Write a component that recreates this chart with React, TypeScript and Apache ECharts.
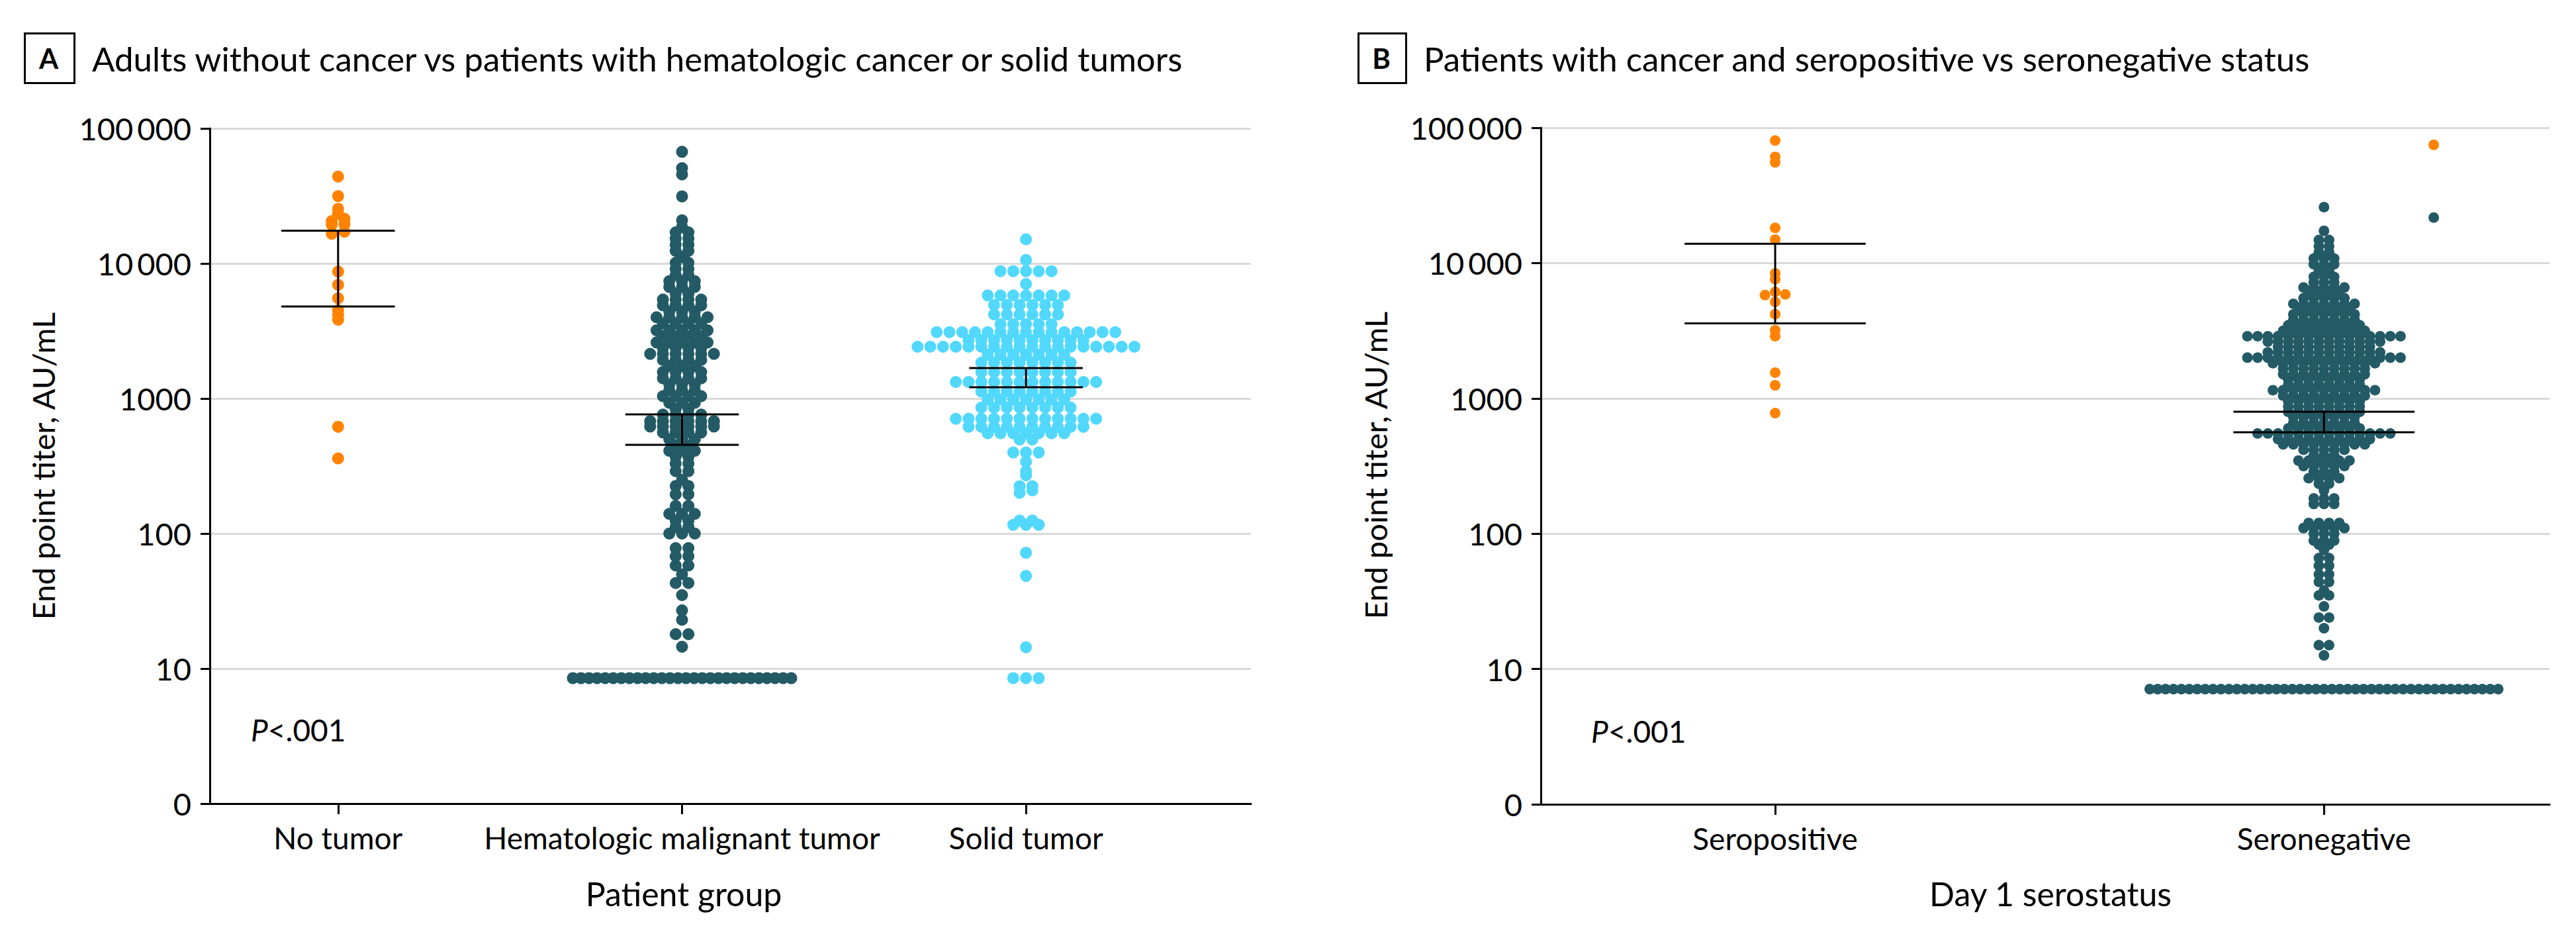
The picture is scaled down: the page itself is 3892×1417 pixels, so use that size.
import React, { useEffect, useRef } from "react";
import * as echarts from "echarts";

const FONT = "Lato, 'Noto Sans', 'DejaVu Sans', sans-serif";

// ---------- texts ----------
const panelATitle = "Adults without cancer vs patients with hematologic cancer or solid tumors";
const panelBTitle = "Patients with cancer and seropositive vs seronegative status";
const panelACategories = ["No tumor", "Hematologic malignant tumor", "Solid tumor"];
const panelBCategories = ["Seropositive", "Seronegative"];
const panelAXTitle = "Patient group";
const panelBXTitle = "Day 1 serostatus";
const yAxisTitle = "End point titer, AU/mL";
const yTickLabels = ["0", "10", "100", "1000", "10\u2009000", "100\u2009000"];
const pValueText = "<.001";

// ---------- data (AU/mL) ----------
const noTumorTiters = [44000, 31500, 25400, 23300, 21400, 19600, 19400, 20600, 17200, 16600, 8700, 6950, 5530, 4510, 3830, 4140, 618, 360];

const hemaLevels = [67100, 50800, 45700, 31400, 20900, 18600, 17000, 15300, 13800, 12400, 11200, 10100, 9100, 8200, 7400, 6700, 6000, 5400, 4900, 4400, 4000, 3600, 3200, 2900, 2600, 2370, 2140, 1930, 1740, 1570, 1410, 1270, 1150, 1040, 930, 840, 760, 680, 620, 560, 500, 450, 410, 370, 330, 290, 250, 225, 195, 160, 140, 125, 112, 100, 78, 68, 58, 50, 43, 35, 27, 23, 18, 14.5, 8.5];
const hemaCounts = [1, 1, 1, 1, 1, 1, 2, 2, 2, 2, 1, 2, 2, 2, 3, 3, 2, 4, 4, 3, 5, 4, 5, 4, 5, 4, 6, 4, 3, 4, 4, 3, 3, 4, 3, 2, 4, 6, 6, 4, 3, 2, 3, 2, 2, 2, 1, 2, 2, 2, 3, 2, 2, 3, 2, 2, 2, 1, 2, 1, 1, 1, 2, 1, 28];

const solidLevels = [15100, 10600, 8770, 7050, 5800, 4930, 4190, 3550, 3100, 2700, 2420, 2110, 1845, 1565, 1325, 1125, 982, 857, 708, 617, 553, 497, 398, 340, 290, 270, 224, 209, 200, 125, 116, 72, 48.5, 14.4, 8.5];
const solidCounts = [1, 1, 5, 1, 7, 6, 6, 5, 15, 10, 18, 7, 8, 8, 12, 8, 7, 8, 12, 10, 7, 2, 3, 1, 1, 1, 2, 1, 1, 2, 3, 1, 1, 1, 3];

const seroposTiters = [80400, 61000, 55500, 18200, 14900, 8400, 7590, 5870, 6120, 5800, 5160, 4190, 3190, 2880, 1550, 1250, 778];

const seronegLevels = [25900, 17300, 14800, 13300, 12000, 10800, 9800, 8800, 7900, 7200, 6600, 6000, 5500, 5000, 4570, 4170, 3800, 3470, 3160, 2880, 2630, 2400, 2190, 2000, 1820, 1660, 1510, 1380, 1260, 1150, 1050, 955, 870, 795, 725, 660, 600, 550, 500, 457, 417, 380, 347, 316, 288, 257, 234, 209, 182, 166, 120, 110, 100, 89, 83, 76, 66, 58, 50, 44, 38, 35, 29, 24, 20, 15, 12.6, 7.1];
const seronegCounts = [1, 1, 2, 2, 2, 3, 3, 2, 3, 3, 5, 4, 5, 7, 6, 7, 7, 8, 9, 16, 12, 10, 12, 16, 11, 9, 9, 8, 8, 11, 9, 8, 8, 8, 7, 7, 8, 14, 10, 9, 5, 3, 6, 5, 3, 4, 2, 1, 3, 3, 4, 5, 3, 3, 2, 1, 2, 2, 2, 2, 1, 2, 1, 2, 1, 2, 1, 45];

// two seronegative-group outliers drawn beside the swarm
const seronegOutlierTiters = [74800, 21700];
const seronegOutlierIsOrange = [true, false];

// error bars (low / high), AU/mL
const panelAErrLow = [4800, 454, 1210];
const panelAErrHigh = [17500, 763, 1680];
const panelBErrLow = [3580, 562];
const panelBErrHigh = [13900, 796];

// ---------- styling ----------
const ORANGE = "#ff8300";
const TEAL = "#235a65";
const CYAN = "#52d8fc";
const GRID_GRAY = "#d9d9d9";

const expand = (levels: number[], counts: number[]) => {
  const out: number[] = [];
  levels.forEach((v, i) => {
    for (let k = 0; k < counts[i]; k++) out.push(v);
  });
  return out;
};

// Prism-like row layout: values grouped in rows, rows spread symmetrically
function swarm(values: number[], center: number, step: number, maxSpan: number, rowGap: number): number[][] {
  const logs = values.map((v) => Math.log10(v)).sort((a, b) => b - a);
  const rows: number[][] = [];
  let cur: number[] = [];
  let start = Infinity;
  for (const l of logs) {
    if (cur.length && start - l < rowGap) cur.push(l);
    else {
      if (cur.length) rows.push(cur);
      cur = [l];
      start = l;
    }
  }
  if (cur.length) rows.push(cur);
  const pts: number[][] = [];
  for (const row of rows) {
    const n = row.length;
    const st = n > 1 ? Math.min(step, maxSpan / (n - 1)) : 0;
    const offs = row.map((_, i) => (i - (n - 1) / 2) * st);
    offs.sort((a, b) => Math.abs(a) - Math.abs(b) || b - a);
    row.forEach((l, i) => pts.push([center + offs[i], l]));
  }
  return pts;
}

const errRender = (hw: number) => (params: any, api: any) => {
  const x = api.value(0);
  const lo = api.value(1);
  const hi = api.value(2);
  const a = api.coord([x - hw, lo]);
  const b = api.coord([x + hw, lo]);
  const c = api.coord([x - hw, hi]);
  const d = api.coord([x + hw, hi]);
  const m0 = api.coord([x, lo]);
  const m1 = api.coord([x, hi]);
  const st = { stroke: "#000", lineWidth: 3 };
  return {
    type: "group",
    children: [
      { type: "line", shape: { x1: a[0], y1: a[1], x2: b[0], y2: b[1] }, style: st },
      { type: "line", shape: { x1: c[0], y1: c[1], x2: d[0], y2: d[1] }, style: st },
      { type: "line", shape: { x1: m0[0], y1: m0[1], x2: m1[0], y2: m1[1] }, style: st },
    ],
  };
};

export default function App() {
  const ref = useRef<HTMLDivElement>(null);
  useEffect(() => {
    if (!ref.current) return;
    const chart = echarts.init(ref.current, undefined, { renderer: "svg" });

    const stepA = 0.0371;
    const stepB = 0.0186;
    const maxSpan = 0.635;
    const rowGap = 0.03;

    const noTumorPts = swarm(noTumorTiters, 0, stepA, maxSpan, rowGap);
    const hemaPts = swarm(expand(hemaLevels, hemaCounts), 1, stepA, maxSpan, rowGap);
    const solidPts = swarm(expand(solidLevels, solidCounts), 2, stepA, maxSpan, rowGap);
    const seroposPts = swarm(seroposTiters, 0, stepB, maxSpan, rowGap);
    const seronegPts = swarm(expand(seronegLevels, seronegCounts), 1, stepB, maxSpan, rowGap);
    const outlierOffset = 0.2;
    const outOrange = seronegOutlierTiters.filter((_, i) => seronegOutlierIsOrange[i]).map((v) => [1 + outlierOffset, Math.log10(v)]);
    const outTeal = seronegOutlierTiters.filter((_, i) => !seronegOutlierIsOrange[i]).map((v) => [1 + outlierOffset, Math.log10(v)]);

    const yAxisCommon = (gi: number) => ({
      type: "value",
      gridIndex: gi,
      min: 0,
      max: 5,
      interval: 1,
      axisLine: { show: true, onZero: false, lineStyle: { color: "#000", width: 3 } },
      axisTick: { show: true, length: 14, lineStyle: { color: "#000", width: 3 } },
      axisLabel: {
        margin: 28,
        color: "#000",
        fontSize: 47,
        fontFamily: FONT,
        formatter: (v: number) => yTickLabels[Math.round(v)] ?? "",
      },
      splitLine: { show: true, lineStyle: { color: GRID_GRAY, width: 3 } },
    });

    const xAxisCommon = (gi: number, min: number, max: number, cats: string[]) => ({
      type: "value",
      gridIndex: gi,
      min,
      max,
      axisLine: { show: true, onZero: false, lineStyle: { color: "#000", width: 3 } },
      axisTick: { show: true, length: 16, customValues: cats.map((_, i) => i), lineStyle: { color: "#000", width: 3 } },
      axisLabel: {
        show: true,
        margin: 28,
        color: "#000",
        fontSize: 46,
        fontFamily: FONT,
        customValues: cats.map((_, i) => i),
        formatter: (v: number) => cats[Math.round(v)] ?? "",
      },
      splitLine: { show: false },
    });

    const dot = (name: string, data: number[][], color: string, xi: number, size: number) => ({
      name,
      type: "scatter",
      xAxisIndex: xi,
      yAxisIndex: xi,
      data,
      symbol: "circle",
      symbolSize: size,
      itemStyle: { color, opacity: 1 },
      silent: true,
      z: 2,
    });

    const header = (x: number, boxW: number, letter: string, title: string) => [
      { type: "rect", left: x, top: 49, shape: { x: 0, y: 0, width: boxW, height: 75 }, style: { fill: "#fff", stroke: "#000", lineWidth: 3 } },
      { type: "text", x: x + boxW / 2, y: 88, style: { text: letter, fontSize: 42, fontWeight: "bold", fontFamily: FONT, fill: "#000", align: "center", verticalAlign: "middle" } },
      { type: "text", x: x + boxW + 28, y: 88, style: { text: title, fontSize: 51, fontFamily: FONT, fill: "#000", align: "left", verticalAlign: "middle" } },
    ];

    const pText = (x: number, y: number) => ({
      type: "text",
      x,
      y,
      style: {
        text: "{i|P}" + pValueText,
        fontSize: 46,
        fontFamily: FONT,
        fill: "#000",
        align: "left",
        verticalAlign: "middle",
        rich: { i: { fontStyle: "italic", fontSize: 46, fontFamily: FONT, fill: "#000" } },
      },
    });

    const yTitle = (x: number, y: number) => ({
      type: "text",
      x,
      y,
      rotation: Math.PI / 2,
      style: { text: yAxisTitle, fontSize: 47, fontFamily: FONT, fill: "#000", align: "center", verticalAlign: "middle" },
    });

    const xTitle = (x: number, y: number, t: string) => ({
      type: "text",
      x,
      y,
      style: { text: t, fontSize: 50, fontFamily: FONT, fill: "#000", align: "center", verticalAlign: "middle" },
    });

    chart.setOption({
      animation: false,
      backgroundColor: "#fff",
      textStyle: { fontFamily: FONT },
      grid: [
        { left: 317, top: 194, width: 1573, height: 1020, containLabel: false, outerBoundsMode: "none" },
        { left: 2328, top: 193, width: 1524, height: 1022, containLabel: false, outerBoundsMode: "none" },
      ],
      xAxis: [xAxisCommon(0, -0.373, 2.654, panelACategories), xAxisCommon(1, -0.427, 1.411, panelBCategories)],
      yAxis: [yAxisCommon(0), yAxisCommon(1)],
      series: [
        dot("No tumor", noTumorPts, ORANGE, 0, 18),
        dot("Hematologic malignant tumor", hemaPts, TEAL, 0, 18),
        dot("Solid tumor", solidPts, CYAN, 0, 18),
        dot("Seropositive", seroposPts, ORANGE, 1, 16),
        dot("Seronegative", seronegPts, TEAL, 1, 16),
        dot("Seronegative outlier (orange)", outOrange, ORANGE, 1, 16),
        dot("Seronegative outlier", outTeal, TEAL, 1, 16),
        {
          type: "custom",
          xAxisIndex: 0,
          yAxisIndex: 0,
          renderItem: errRender(0.165),
          data: panelAErrLow.map((lo, i) => [i, Math.log10(lo), Math.log10(panelAErrHigh[i])]),
          encode: { x: 0, y: [1, 2] },
          silent: true,
          z: 5,
        },
        {
          type: "custom",
          xAxisIndex: 1,
          yAxisIndex: 1,
          renderItem: errRender(0.165),
          data: panelBErrLow.map((lo, i) => [i, Math.log10(lo), Math.log10(panelBErrHigh[i])]),
          encode: { x: 0, y: [1, 2] },
          silent: true,
          z: 5,
        },
      ],
      graphic: [
        ...header(36, 75, "A", panelATitle),
        ...header(2051, 72, "B", panelBTitle),
        pText(379, 1102),
        pText(2404, 1104),
        yTitle(65, 704),
        yTitle(2078, 703),
        xTitle(1033, 1350, panelAXTitle),
        xTitle(3098, 1350, panelBXTitle),
      ],
    });
    return () => chart.dispose();
  }, []);
  return <div ref={ref} style={{ position: "fixed", left: 0, top: 0, width: 3892, height: 1417, background: "#fff" }} />;
}
